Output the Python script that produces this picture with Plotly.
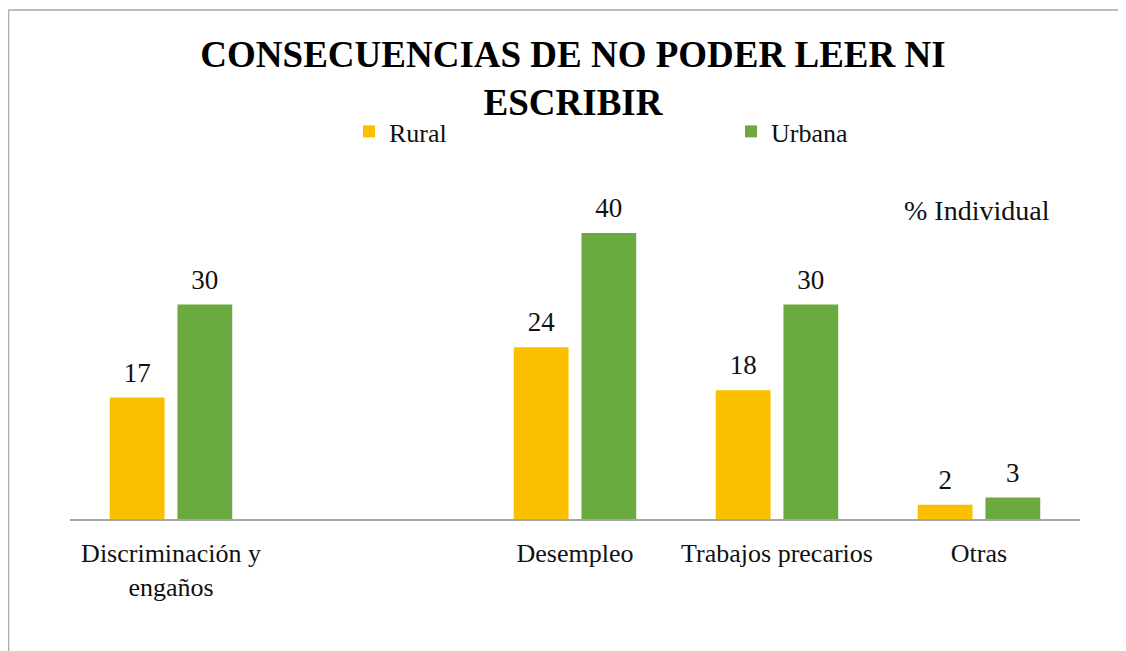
import plotly.graph_objects as go

categories = ["Discriminación y<br>engaños", " ", "Desempleo", "Trabajos precarios", "Otras"]
rural = [17, None, 24, 18, 2]
urbana = [30, None, 40, 30, 3]
series_names = ["Rural", "Urbana"]
series_colors = ["#FAC000", "#6BAA41"]
title_text = "CONSECUENCIAS DE NO PODER LEER NI<br>ESCRIBIR"
unit_note = "% Individual"

# page body has an 8px margin: figure coords = screen coords - 8
OFF = 8
W, H = 1126 - OFF, 651 - OFF
L, R, T, B = 70 - OFF, 46, 190 - OFF, 132
plot_w = W - L - R
plot_h = H - T - B

def px_x(p):
    return (p - OFF - L) / plot_w

def px_y(p):
    return (H - B - (p - OFF)) / plot_h

def fmt(vals):
    return [("" if v is None else f"{v}") for v in vals]

FONT = "Liberation Serif"

fig = go.Figure()
for name, vals, col in zip(series_names, [rural, urbana], series_colors):
    fig.add_trace(go.Bar(
        x=categories, y=vals, name=name, offsetgroup=name,
        marker=dict(color=col, line=dict(width=0)),
        hoverinfo="x+y",
    ))
for name, vals in zip(series_names, [rural, urbana]):
    fig.add_trace(go.Scatter(
        x=categories, y=vals, offsetgroup=name, mode="markers+text",
        text=fmt(vals), textposition="top center",
        marker=dict(size=13, opacity=0),
        textfont=dict(family=FONT, size=27, color="#111111"),
        showlegend=False, hoverinfo="skip", cliponaxis=False,
    ))

fig.update_layout(
    width=W, height=H,
    margin=dict(l=L, r=R, t=T, b=B, pad=0, autoexpand=False),
    paper_bgcolor="white", plot_bgcolor="white",
    barmode="group", bargap=0.33, bargroupgap=0.19,
    scattermode="group", scattergap=0.33,
    font=dict(family=FONT, color="#111111"),
    title=dict(
        text="<b>" + title_text + "</b>",
        font=dict(family=FONT, size=37, color="#000000"),
        x=(573 - OFF) / W, xanchor="center", xref="container",
        y=1 - 59 / H, yanchor="top", yref="container",
    ),
    legend=dict(
        orientation="h", xref="container", yref="container",
        x=341 / W, xanchor="left", y=1 - 100 / H, yanchor="top",
        font=dict(family=FONT, size=26, color="#111111"),
        entrywidth=337, entrywidthmode="pixels",
        bgcolor="rgba(0,0,0,0)", itemclick=False,
    ),
    xaxis=dict(
        showline=True, linecolor="#A6A6A6", linewidth=1.5,
        showgrid=False, ticks="", ticklabelstandoff=10,
        tickfont=dict(family=FONT, size=26, color="#111111"),
        zeroline=False,
    ),
    yaxis=dict(
        range=[0, 46], visible=False, showgrid=False, zeroline=False,
    ),
    annotations=[dict(
        text=unit_note, xref="paper", yref="paper",
        x=px_x(977), y=px_y(210), xanchor="center", yanchor="middle",
        showarrow=False, font=dict(family=FONT, size=28, color="#111111"),
    )],
    shapes=[
        dict(type="line", xref="paper", yref="paper",
             x0=px_x(8.5), x1=px_x(8.5), y0=px_y(10), y1=px_y(660),
             line=dict(color="#A9A9A9", width=1.5)),
        dict(type="line", xref="paper", yref="paper",
             x0=px_x(8.5), x1=px_x(1135), y0=px_y(10), y1=px_y(10),
             line=dict(color="#A9A9A9", width=1.5)),
    ],
)

fig.write_html("out.html")
